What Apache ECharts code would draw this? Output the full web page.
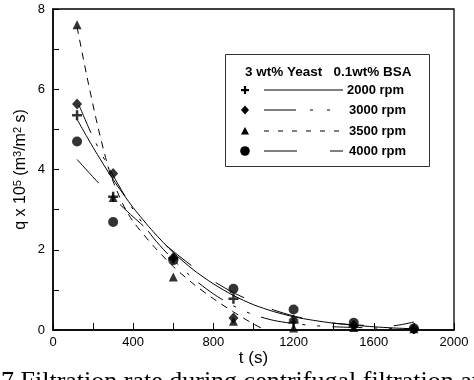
<!DOCTYPE html>
<html><head><meta charset="utf-8">
<script src="https://cdn.jsdelivr.net/npm/echarts@6/dist/echarts.min.js"></script>
<style>html,body{margin:0;padding:0;background:#fff;}#c{width:474px;height:380px;}</style>
</head><body><div id="c"></div>
<script>
// measured data points (t in s, q x 1e5)
const tPts = [120, 300, 600, 900, 1200, 1500, 1800];
const q2000 = [5.35, 3.32, 1.78, 0.78, 0.19, 0.10, 0.03];
const q3000 = [5.63, 3.90, 1.80, 0.30, 0.25, 0.12, 0.03];
const q3500 = [7.61, 3.30, 1.32, 0.22, 0.05, 0.06, 0.03];
const q4000 = [4.70, 2.69, 1.74, 1.03, 0.51, 0.18, 0.04];
// fitted curves
const fitT2000 = [120, 200, 300, 400, 500, 600, 700, 800, 900, 1000, 1100, 1200, 1300, 1400, 1500, 1600, 1700, 1800];
const fitQ2000 = [5.25, 4.55, 3.75, 3.05, 2.45, 1.93, 1.5, 1.15, 0.86, 0.63, 0.46, 0.33, 0.24, 0.17, 0.12, 0.08, 0.05, 0.03];
const fitT3000 = [130, 200, 300, 400, 500, 600, 700, 800, 900, 1000, 1100, 1200, 1300, 1400, 1600, 1800];
const fitQ3000 = [5.6, 4.8, 3.85, 3.0, 2.3, 1.75, 1.28, 0.9, 0.6, 0.38, 0.24, 0.16, 0.11, 0.08, 0.05, 0.03];
const fitT3500 = [120, 170, 220, 270, 300, 350, 400, 500, 600, 700, 800, 900, 1000, 1050];
const fitQ3500 = [7.55, 6.3, 5.15, 4.15, 3.7, 3.12, 2.7, 2.1, 1.58, 1.15, 0.78, 0.45, 0.15, 0.02];
const fitT4000 = [120, 230, 340, 400, 500, 600, 700, 800, 900, 1000, 1100, 1200, 1300, 1400, 1500, 1600, 1700, 1800];
const fitQ4000 = [4.25, 3.65, 3.1, 2.82, 2.38, 1.96, 1.57, 1.22, 0.93, 0.7, 0.5, 0.35, 0.24, 0.17, 0.13, 0.11, 0.11, 0.2];
const xTicks = [0, 400, 800, 1200, 1600, 2000];
const yTicks = [0, 2, 4, 6, 8];
const legendTitle = '3 wt% Yeast   0.1wt% BSA';
const legendLabels = ['2000 rpm', '3000 rpm', '3500 rpm', '4000 rpm'];
const caption = '7 Filtration rate during centrifugal filtration and filtration behaviour';

const zip = (a, b) => a.map((v, i) => [v, b[i]]);
const plusPath = 'path://M3,0H5V3H8V5H5V8H3V5H0V3H3Z';
const font = 'Liberation Sans, Arial, sans-serif';

function fitLine(name, t, q, dash) {
  return { name: name, type: 'line', data: zip(t, q), showSymbol: false, symbol: 'none',
    smooth: 0.25, silent: true, z: 2,
    lineStyle: { color: '#000', width: 1, type: dash } };
}
function pts(name, q, symbol, size) {
  return { name: name, type: 'scatter', data: zip(tPts, q), symbol: symbol, symbolSize: size,
    itemStyle: { color: '#000' }, z: 5, silent: true };
}

const chart = echarts.init(document.getElementById('c'), null, { renderer: 'canvas' });
const lx0 = 264, lx1 = 343;
const rowsY = [90, 110, 131, 151];
const legendGraphics = [
  { type: 'rect', shape: { x: 225.5, y: 54.5, width: 204, height: 112 }, style: { fill: '#fff', stroke: '#333', lineWidth: 1 }, z: 10 },
  { type: 'text', x: 245, y: 72, style: { text: legendTitle, font: 'bold 13.5px ' + font, fill: '#000', textVerticalAlign: 'middle', verticalAlign: 'middle' }, z: 11 },
  { type: 'line', shape: { x1: lx0, y1: rowsY[0], x2: lx1, y2: rowsY[0] }, style: { stroke: '#000', lineWidth: 1 }, z: 11 },
  { type: 'line', shape: { x1: lx0, y1: rowsY[1], x2: lx1, y2: rowsY[1] }, style: { stroke: '#000', lineWidth: 1, lineDash: [32, 14, 3, 14, 3, 14] }, z: 11 },
  { type: 'line', shape: { x1: lx0, y1: rowsY[2], x2: lx1, y2: rowsY[2] }, style: { stroke: '#000', lineWidth: 1, lineDash: [5, 9] }, z: 11 },
  { type: 'line', shape: { x1: lx0, y1: rowsY[3], x2: lx1, y2: rowsY[3] }, style: { stroke: '#000', lineWidth: 1, lineDash: [33, 33] }, z: 11 },
  { type: 'rect', shape: { x: 241, y: rowsY[0] - 1, width: 8, height: 2.2 }, style: { fill: '#000' }, z: 11 },
  { type: 'rect', shape: { x: 243.9, y: rowsY[0] - 4, width: 2.2, height: 8 }, style: { fill: '#000' }, z: 11 },
  { type: 'polygon', shape: { points: [[245, rowsY[1] - 4.5], [249, rowsY[1]], [245, rowsY[1] + 4.5], [241, rowsY[1]]] }, style: { fill: '#000' }, z: 11 },
  { type: 'polygon', shape: { points: [[245, rowsY[2] - 4], [249, rowsY[2] + 3.5], [241, rowsY[2] + 3.5]] }, style: { fill: '#000' }, z: 11 },
  { type: 'circle', shape: { cx: 245, cy: rowsY[3], r: 4.8 }, style: { fill: '#000' }, z: 11 },
  { type: 'text', x: 1, y: 369, style: { text: caption, font: '26px Liberation Serif, Times New Roman, serif', fill: '#000', textVerticalAlign: 'top', verticalAlign: 'top' }, z: 11 }
];
legendLabels.forEach((l, i) => {
  legendGraphics.push({ type: 'text', x: i === 0 ? 347 : 349, y: rowsY[i], style: { text: l, font: 'bold 13px ' + font, fill: '#000', textVerticalAlign: 'middle', verticalAlign: 'middle' }, z: 11 });
});

chart.setOption({
  animation: false,
  backgroundColor: '#fff',
  grid: { left: 53, right: 20, top: 9, bottom: 50, show: true, borderColor: '#000', borderWidth: 1.3, backgroundColor: 'transparent' },
  xAxis: {
    type: 'value', min: 0, max: 2000, interval: 400,
    name: 't (s)', nameLocation: 'middle', nameGap: 20, nameMoveOverlap: false,
    nameTextStyle: { fontFamily: font, fontSize: 17, color: '#000' },
    axisLine: { show: true, onZero: false, lineStyle: { color: '#000', width: 1.5 } },
    axisTick: { show: true, inside: true, length: 7, lineStyle: { color: '#000', width: 1 } },
    minorTick: { show: true, splitNumber: 2, length: 7, lineStyle: { color: '#000', width: 1 } },
    splitLine: { show: false },
    axisLabel: { fontFamily: font, fontSize: 13, color: '#000', margin: 6,
      formatter: v => xTicks.indexOf(v) >= 0 ? String(v) : '' }
  },
  yAxis: {
    type: 'value', min: 0, max: 8, interval: 2,
    name: '{n|q x 10}{s|5}{n| (m}{s|3}{n|/m}{s|2}{n| s)}', nameLocation: 'middle', nameGap: 23, nameRotate: 90,
    nameMoveOverlap: false,
    nameTextStyle: { fontFamily: font, fontSize: 16, color: '#000',
      rich: { n: { fontFamily: font, fontSize: 16, color: '#000', lineHeight: 18 },
              s: { fontFamily: font, fontSize: 11, color: '#000', lineHeight: 18, verticalAlign: 'top' } } },
    axisLine: { show: true, onZero: false, lineStyle: { color: '#000', width: 1.5 } },
    axisTick: { show: true, inside: true, length: 6, lineStyle: { color: '#000', width: 1 } },
    minorTick: { show: true, splitNumber: 2, length: 6, lineStyle: { color: '#000', width: 1 } },
    splitLine: { show: false },
    axisLabel: { fontFamily: font, fontSize: 13, color: '#000', margin: 8,
      formatter: v => yTicks.indexOf(v) >= 0 ? String(v) : '' }
  },
  series: [
    fitLine('2000 fit', fitT2000, fitQ2000, 'solid'),
    fitLine('3000 fit', fitT3000, fitQ3000, [30, 12, 3, 12, 3, 12]),
    fitLine('3500 fit', fitT3500, fitQ3500, [7, 6]),
    fitLine('4000 fit', fitT4000, fitQ4000, [32, 30]),
    pts('2000 rpm', q2000, plusPath, 10),
    pts('3000 rpm', q3000, 'diamond', [10, 11]),
    pts('3500 rpm', q3500, 'triangle', 9),
    pts('4000 rpm', q4000, 'circle', 10)
  ],
  graphic: legendGraphics
});
</script></body></html>
